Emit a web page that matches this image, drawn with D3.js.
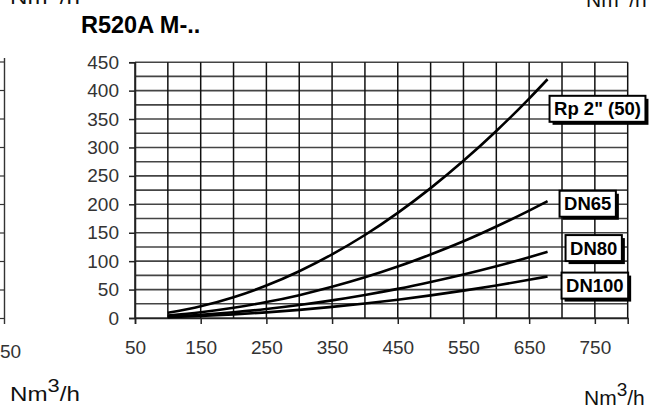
<!DOCTYPE html>
<html><head><meta charset="utf-8">
<script src="https://cdn.jsdelivr.net/npm/d3@7"></script>
<style>body{margin:0;background:#fff} svg{display:block}</style>
</head><body>
<script>
// ---- data ----
const title = "R520A M-..";
const flow  = [100,150,200,250,300,350,400,450,500,550,600,650,678];
const rp2   = [9.1,20.6,36.6,57.1,82.3,112,146,185,228.5,276.5,329,386,420];
const dn65  = [4.5,10,17.9,28,40.2,54.8,71.5,90.5,111.8,135,161,189,205.5];
const dn80  = [2.5,5.7,10.1,15.8,22.8,31,40.5,51.2,63.3,76.5,91,107,116.5];
const dn100 = [1.6,3.6,6.4,9.9,14.3,19.5,25.4,32.2,39.8,48.1,57.2,67.2,73];
const seriesNames = ['Rp 2" (50)','DN65','DN80','DN100'];
const xTickValues = [50,150,250,350,450,550,650,750];
const yTickValues = [0,50,100,150,200,250,300,350,400,450];
const xDomain = [50,800];
const yDomain = [0,450];
const unitParts = ["Nm","3","/h"];
const leftCutLabel = "50";

// ---- layout ----
const W = 659, H = 410;
const svg = d3.select("body").append("svg").attr("width",W).attr("height",H)
  .style("font-family","'Liberation Sans', Arial, sans-serif");
const x = d3.scaleLinear().domain(xDomain).range([135,627.7]);
const y = d3.scaleLinear().domain(yDomain).range([318,62.2]);

// remnants of neighbouring chart (cropped scan)
const remn = svg.append("g");
remn.append("line").attr("x1",4.5).attr("x2",4.5).attr("y1",58).attr("y2",324)
  .attr("stroke","#333").attr("stroke-width",1.4);
d3.range(62,325,28.5).forEach(v=>remn.append("line").attr("x1",0).attr("x2",4.5)
  .attr("y1",v).attr("y2",v).attr("stroke","#333").attr("stroke-width",1.2));
remn.append("text").attr("x",0).attr("y",358)
  .attr("font-size",19).attr("fill","#333").text(leftCutLabel);

function unit(xp, yp, sx){
  const t = svg.append("text").attr("font-size",21).attr("fill","#111")
    .attr("transform",`translate(${xp},${yp}) scale(${sx},1)`);
  t.append("tspan").text(unitParts[0]);
  t.append("tspan").attr("dy",-9).attr("font-size",19).text(unitParts[1]);
  t.append("tspan").attr("dy",9).text(unitParts[2]);
}
unit(10,401,1.15);
unit(584,405,1.0);
unit(10,4,1.15);
unit(586,7,1.0);

// title
svg.append("text").attr("x",81).attr("y",33).attr("font-size",23.5)
  .attr("font-weight","bold").attr("fill","#000").text(title);

// grid
const g = svg.append("g");
g.selectAll("line.h").data(d3.range(0,451,25)).join("line")
  .attr("x1",x(50)).attr("x2",x(800)).attr("y1",d=>y(d)).attr("y2",d=>y(d))
  .attr("stroke","#444").attr("stroke-width",1.6);
g.selectAll("line.v").data(d3.range(50,801,50)).join("line")
  .attr("y1",y(0)).attr("y2",y(450)).attr("x1",d=>x(d)).attr("x2",d=>x(d))
  .attr("stroke","#111").attr("stroke-width",1.5);

// axes
const ax = svg.append("g").attr("transform",`translate(0,${y(0)})`)
  .call(d3.axisBottom(x).tickValues(xTickValues).tickSize(6).tickPadding(17));
const ay = svg.append("g").attr("transform",`translate(${x(50)},0)`)
  .call(d3.axisLeft(y).tickValues(yTickValues).tickSize(6).tickPadding(10));
[ax,ay].forEach(a=>{
  a.select(".domain").attr("stroke","#222").attr("stroke-width",1.5);
  a.selectAll(".tick line").attr("stroke","#222").attr("stroke-width",1.5);
  a.selectAll(".tick text").attr("font-size",19).attr("fill","#333")
    .attr("font-family","'Liberation Sans', Arial, sans-serif");
});

// curves
const allSeries = [rp2, dn65, dn80, dn100];
const line = d3.line().x((d,i)=>x(flow[i])).y(d=>y(d)).curve(d3.curveMonotoneX);
svg.append("g").selectAll("path").data(allSeries).join("path")
  .attr("d",line).attr("fill","none").attr("stroke","#000").attr("stroke-width",2.6);

// labels (box positions relative to curve ends)
const labelOffsetX = [2, 12, 18, 14];
const labelCenterY = [368, 201, 123, 57];
const lg = svg.append("g");
seriesNames.forEach((name,i)=>{
  const gx = lg.append("g");
  const t = gx.append("text").attr("font-size",18.5).attr("font-weight","bold")
    .attr("fill","#000").text(name);
  const bw = t.node().getComputedTextLength() + 9;
  const bh = 26;
  const left = x(flow[flow.length-1]) + labelOffsetX[i];
  const cy = y(labelCenterY[i]);
  gx.insert("rect","text").attr("x",left+3).attr("y",cy-bh/2+3).attr("width",bw).attr("height",bh)
    .attr("fill","#000");
  gx.insert("rect","text").attr("x",left).attr("y",cy-bh/2).attr("width",bw).attr("height",bh)
    .attr("fill","#fff").attr("stroke","#000").attr("stroke-width",2);
  t.attr("x",left+bw/2).attr("y",cy+6.5).attr("text-anchor","middle");
});
</script>
</body></html>
